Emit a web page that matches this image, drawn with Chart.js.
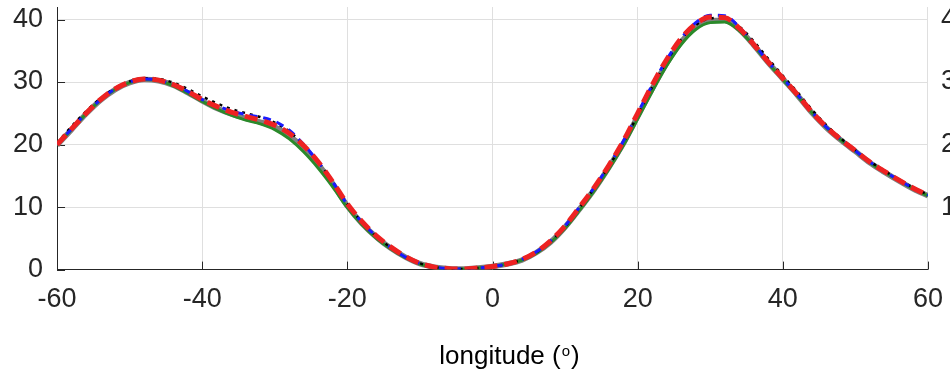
<!DOCTYPE html>
<html>
<head>
<meta charset="utf-8">
<script src="https://cdn.jsdelivr.net/npm/chart.js@4/dist/chart.umd.min.js"></script>
<style>
  html, body { margin: 0; padding: 0; width: 950px; height: 375px; overflow: hidden; background: #ffffff; }
  #wrap { position: absolute; left: 0; top: -30px; width: 1000px; height: 405px; }
</style>
</head>
<body>
<div id="wrap"><canvas id="c"></canvas></div>
<script>
// ---- data ----
const longitudes = [-60,-58,-56,-54,-52,-50,-48,-46,-44,-42,-40,-38,-36,-34,-32,-30,-28,-26,-24,-22,-20,-18,-16,-14,-12,-10,-8,-6,-4,-2,0,2,4,6,8,10,12,14,16,18,20,22,24,26,28,30,32,34,36,38,40,42,44,46,48,50,52,54,56,58,60];
const seriesRed   = [20.0,22.5,25.0,27.2,28.9,30.0,30.5,30.3,29.6,28.5,27.2,26.1,25.2,24.5,23.9,23.1,21.8,19.8,17.2,14.0,10.5,7.7,5.4,3.6,2.1,1.0,0.4,0.15,0.1,0.25,0.5,0.9,1.6,2.8,4.6,7.0,10.0,13.1,16.6,20.5,25.0,29.5,33.6,37.0,39.3,40.4,40.3,38.6,36.0,33.2,30.6,28.0,25.2,22.8,20.8,19.0,17.2,15.7,14.3,13.0,11.9];
const seriesBlack = [20.2,22.9,25.3,27.4,29.0,30.1,30.6,30.5,29.9,28.9,27.7,26.6,25.7,25.0,24.4,23.5,22.1,19.9,17.2,14.0,10.5,7.6,5.3,3.5,2.0,1.0,0.4,0.15,0.1,0.25,0.5,0.9,1.6,2.7,4.5,6.9,9.9,13.0,16.5,20.3,24.7,29.2,33.3,36.8,39.1,40.2,40.3,38.9,36.5,33.7,31.0,28.4,25.6,23.1,21.0,19.1,17.3,15.8,14.4,13.1,12.0];
const seriesBlue  = [20.0,22.5,25.0,27.2,28.9,30.0,30.5,30.3,29.6,28.5,27.2,26.2,25.4,24.8,24.4,23.7,22.3,20.0,17.2,14.0,10.4,7.6,5.3,3.5,2.0,1.0,0.4,0.15,0.1,0.25,0.5,0.9,1.6,2.8,4.6,7.0,10.0,13.1,16.6,20.5,25.0,29.5,33.6,37.0,39.5,40.7,40.6,38.8,36.1,33.2,30.6,28.0,25.2,22.8,20.8,19.0,17.2,15.7,14.3,13.0,11.9];
const seriesGreen = [19.9,22.4,24.9,27.1,28.8,29.9,30.4,30.2,29.4,28.2,26.9,25.7,24.7,23.9,23.3,22.4,20.9,18.8,16.2,13.2,9.9,7.2,5.0,3.3,1.9,0.9,0.35,0.12,0.1,0.25,0.5,0.9,1.5,2.6,4.3,6.6,9.5,12.6,16.0,19.8,24.1,28.5,32.6,36.0,38.4,39.5,39.6,38.2,35.8,33.0,30.4,27.8,25.1,22.7,20.7,18.9,17.1,15.6,14.2,12.9,11.8];
const seriesGray  = [19.9,22.4,24.9,27.1,28.8,29.9,30.4,30.2,29.5,28.3,27.0,25.8,24.9,24.2,23.6,22.8,21.4,19.4,16.8,13.7,10.2,7.4,5.2,3.4,2.0,0.95,0.4,0.15,0.1,0.25,0.5,0.9,1.5,2.7,4.4,6.8,9.7,12.8,16.3,20.1,24.5,28.9,33.0,36.4,38.8,39.8,39.9,38.4,35.9,33.1,30.5,27.9,25.1,22.7,20.7,18.9,17.1,15.6,14.2,12.9,11.8];
const xTicks = [-60,-40,-20,0,20,40,60];
const yTicks = [0,10,20,30,40];
const yRightTicks = [10,20,30,40];
const xLabelMain = 'longitude (';
const xLabelSup = 'o';
const xLabelEnd = ')';

// ---- styling ----
const FONT = "'Liberation Sans', Arial, Helvetica, sans-serif";
const AXIS = '#262626';
const GRID = '#dfdfdf';

function pts(arr) { return longitudes.map((x, i) => ({ x: x, y: arr[i] })); }
function mk(label, arr, color, width, dash, order) {
  return { label, data: pts(arr), borderColor: color, backgroundColor: color, borderWidth: width,
           borderDash: dash, pointRadius: 0, cubicInterpolationMode: 'monotone', fill: false, order,
           borderCapStyle: 'butt', borderJoinStyle: 'round' };
}

const innerTicks = {
  id: 'innerTicks',
  beforeDatasetsDraw(chart) {
    const { ctx, chartArea, scales } = chart;
    ctx.save();
    ctx.strokeStyle = AXIS;
    ctx.lineWidth = 1;
    ctx.beginPath();
    xTicks.forEach(v => {
      const px = Math.round(scales.x.getPixelForValue(v)) + 0.5;
      ctx.moveTo(px, chartArea.bottom);
      ctx.lineTo(px, chartArea.bottom - 8);
    });
    yTicks.forEach(v => {
      const py = Math.round(scales.y.getPixelForValue(v)) + 0.5;
      ctx.moveTo(chartArea.left, py);
      ctx.lineTo(chartArea.left + 8, py);
    });
    ctx.stroke();
    ctx.restore();
  },
  afterDraw(chart) {
    const { ctx, chartArea } = chart;
    ctx.save();
    ctx.fillStyle = '#000000';
    ctx.textBaseline = 'alphabetic';
    ctx.textAlign = 'left';
    const mainFont = '26px ' + FONT;
    const supFont = '15px ' + FONT;
    ctx.font = mainFont;
    const w1 = ctx.measureText(xLabelMain).width;
    const w3 = ctx.measureText(xLabelEnd).width;
    ctx.font = supFont;
    const w2 = ctx.measureText(xLabelSup).width;
    const total = w1 + w2 + 2 + w3;
    const cx = (chartArea.left + chartArea.right) / 2 + 17;
    let x = cx - total / 2;
    const base = chartArea.bottom + 94;
    ctx.font = mainFont;
    ctx.fillText(xLabelMain, x, base);
    x += w1 + 1;
    ctx.font = supFont;
    ctx.fillText(xLabelSup, x, base - 8);
    x += w2 + 1;
    ctx.font = mainFont;
    ctx.fillText(xLabelEnd, x, base);
    ctx.restore();
  }
};

new Chart(document.getElementById('c'), {
  type: 'line',
  data: {
    datasets: [
      mk('red', seriesRed, '#ee2222', 5, [13, 7], 0),
      mk('blue', seriesBlue, '#1a1aff', 3, [8, 6], 1),
      mk('black', seriesBlack, '#000000', 2.5, [3, 5], 2),
      mk('green', seriesGreen, '#2a8a2a', 3, [], 3),
      mk('gray', seriesGray, '#7f7f7f', 5.5, [], 4)
    ]
  },
  options: {
    responsive: true,
    maintainAspectRatio: false,
    animation: false,
    events: [],
    layout: { padding: { top: 37, left: -1, right: 16, bottom: 45 } },
    plugins: { legend: { display: false }, tooltip: { enabled: false }, title: { display: false } },
    scales: {
      x: {
        type: 'linear', min: -60, max: 60,
        afterBuildTicks: s => { s.ticks = xTicks.map(v => ({ value: v })); },
        grid: { color: GRID, drawTicks: false, lineWidth: 1 },
        border: { color: AXIS, width: 1 },
        ticks: { color: AXIS, padding: 14, maxRotation: 0, font: { family: FONT, size: 27 } }
      },
      y: {
        type: 'linear', position: 'left', min: 0, max: 42,
        afterBuildTicks: s => { s.ticks = yTicks.map(v => ({ value: v })); },
        grid: { color: GRID, drawTicks: false, lineWidth: 1 },
        border: { color: AXIS, width: 1 },
        ticks: { color: AXIS, padding: 14, font: { family: FONT, size: 27 } }
      },
      y2: {
        type: 'linear', position: 'right', min: 0, max: 42,
        afterBuildTicks: s => { s.ticks = yRightTicks.map(v => ({ value: v })); },
        grid: { display: false, drawTicks: false },
        border: { display: false },
        ticks: { color: AXIS, padding: 13, font: { family: FONT, size: 27 } }
      }
    }
  },
  plugins: [innerTicks]
});
</script>
</body>
</html>
